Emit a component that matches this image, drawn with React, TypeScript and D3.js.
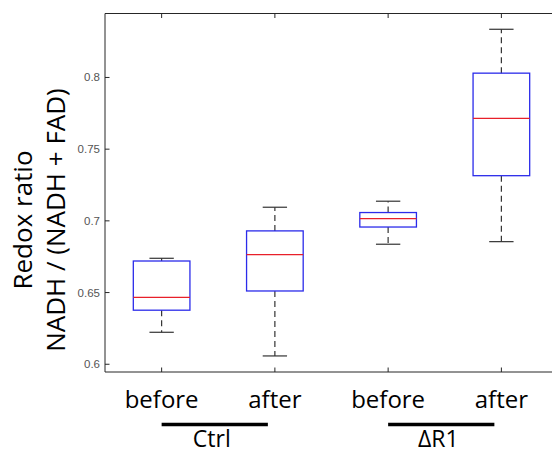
import React from "react";
import * as d3 from "d3";

const categories = ["before", "after", "before", "after"];
const groups = ["Ctrl", "ΔR1"];
const whiskerLow = [0.6223, 0.6058, 0.6837, 0.6855];
const q1 = [0.6377, 0.6511, 0.6957, 0.7315];
const medians = [0.6467, 0.6765, 0.7015, 0.7715];
const q3 = [0.672, 0.693, 0.7058, 0.803];
const whiskerHigh = [0.6739, 0.7095, 0.7137, 0.8336];
const yTicks = [0.6, 0.65, 0.7, 0.75, 0.8];
const yTickLabels = ["0.6", "0.65", "0.7", "0.75", "0.8"];

const W = 552;
const H = 453;
const left = 105;
const right = 558;
const top = 13.5;
const bottom = 372;

export default function App() {
  const x = d3.scaleLinear().domain([0.5, 4.5]).range([left, right]);
  const y = d3.scaleLinear().domain([0.5946, 0.8446]).range([bottom, top]);
  const step = x(2) - x(1);
  const boxW = step * 0.5;
  const capW = boxW * 0.43;
  const font = "'Open Sans', 'DejaVu Sans', sans-serif";
  const axisCol = "#262626";

  return (
    <svg
      width={W}
      height={H}
      style={{ position: "absolute", left: 0, top: 0, background: "#fff" }}
    >
      {/* axes box */}
      <line x1={left} x2={W} y1={top} y2={top} stroke={axisCol} strokeWidth={1} />
      <line x1={left} x2={W} y1={bottom} y2={bottom} stroke={axisCol} strokeWidth={1} />
      <line x1={left} x2={left} y1={top} y2={bottom} stroke={axisCol} strokeWidth={1} />

      {/* y ticks */}
      {yTicks.map((t, i) => (
        <g key={"yt" + i}>
          <line x1={left} x2={left + 4.5} y1={y(t)} y2={y(t)} stroke={axisCol} />
          <text
            x={left - 5}
            y={y(t)}
            dy="0.35em"
            textAnchor="end"
            fontSize={11.5}
            fill="#555"
            fontFamily="'Liberation Sans', Arial, sans-serif"
          >
            {yTickLabels[i]}
          </text>
        </g>
      ))}

      {/* x ticks */}
      {categories.map((c, i) => (
        <g key={"xt" + i}>
          <line x1={x(i + 1)} x2={x(i + 1)} y1={top} y2={top + 4.5} stroke={axisCol} />
          <line x1={x(i + 1)} x2={x(i + 1)} y1={bottom} y2={bottom - 4.5} stroke={axisCol} />
        </g>
      ))}

      {/* boxes */}
      {categories.map((c, i) => {
        const cx = x(i + 1);
        return (
          <g key={"b" + i}>
            <line
              x1={cx}
              x2={cx}
              y1={y(q3[i])}
              y2={y(whiskerHigh[i])}
              stroke="#333"
              strokeWidth={1.2}
              strokeDasharray="6,4"
            />
            <line
              x1={cx}
              x2={cx}
              y1={y(q1[i])}
              y2={y(whiskerLow[i])}
              stroke="#333"
              strokeWidth={1.2}
              strokeDasharray="6,4"
            />
            <line
              x1={cx - capW / 2}
              x2={cx + capW / 2}
              y1={y(whiskerHigh[i])}
              y2={y(whiskerHigh[i])}
              stroke="#333"
              strokeWidth={1.2}
            />
            <line
              x1={cx - capW / 2}
              x2={cx + capW / 2}
              y1={y(whiskerLow[i])}
              y2={y(whiskerLow[i])}
              stroke="#333"
              strokeWidth={1.2}
            />
            <rect
              x={cx - boxW / 2}
              y={y(q3[i])}
              width={boxW}
              height={y(q1[i]) - y(q3[i])}
              fill="none"
              stroke="#2b2bea"
              strokeWidth={1.3}
            />
            <line
              x1={cx - boxW / 2}
              x2={cx + boxW / 2}
              y1={y(medians[i])}
              y2={y(medians[i])}
              stroke="#e8202a"
              strokeWidth={1.3}
            />
          </g>
        );
      })}

      {/* category labels */}
      {categories.map((c, i) => (
        <text
          key={"cl" + i}
          x={x(i + 1)}
          y={408}
          textAnchor="middle"
          fontSize={24}
          fontFamily={font}
          fill="#000"
        >
          {c}
        </text>
      ))}

      {/* group lines and labels */}
      {groups.map((g, gi) => {
        const x1 = x(gi * 2 + 1);
        const x2 = x(gi * 2 + 2) - 7;
        return (
          <g key={"g" + gi}>
            <line x1={x1} x2={x2} y1={424.5} y2={424.5} stroke="#000" strokeWidth={3.5} />
            <text
              x={(x1 + x2) / 2 - 3}
              y={447}
              textAnchor="middle"
              fontSize={23}
              fontFamily={font}
              fill="#000"
            >
              {g}
            </text>
          </g>
        );
      })}

      {/* y label */}
      <g transform="translate(32,220) rotate(-90)">
        <text x={0} y={0} textAnchor="middle" fontSize={26} fontFamily={font} fill="#000">
          Redox ratio
        </text>
        <text x={0} y={33} textAnchor="middle" fontSize={26} fontFamily={font} fill="#000">
          NADH / (NADH + FAD)
        </text>
      </g>
    </svg>
  );
}
